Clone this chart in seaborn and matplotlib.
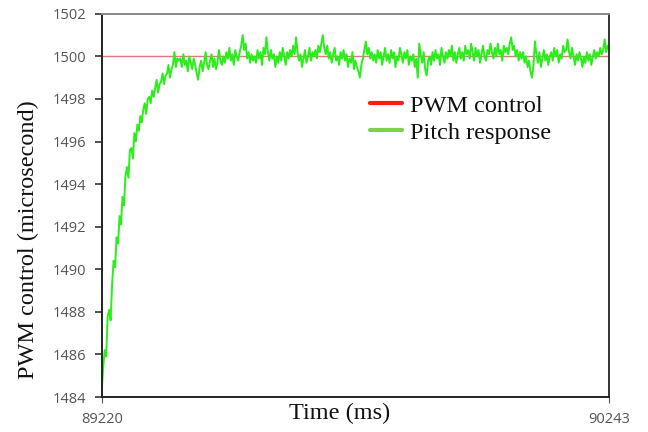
import numpy as np
import pandas as pd
import matplotlib
matplotlib.use("Agg")
import matplotlib.pyplot as plt
from matplotlib.lines import Line2D
import seaborn as sns

# ---------------- data ----------------
t_start, t_end = 89220, 90243
pwm_level = 1500
y_ticks = [1484, 1486, 1488, 1490, 1492, 1494, 1496, 1498, 1500, 1502]
x_ticks = [89220, 90243]
series_names = ["PWM control", "Pitch response"]

pitch_rise = [
    1484.3, 1485.4, 1486.2, 1485.9, 1487.8, 1488.1, 1487.6, 1489.3, 1490.4, 1490.1,
    1491.5, 1491.2, 1492.5, 1492.1, 1493.4, 1493.0, 1494.4, 1494.8, 1494.3, 1495.6,
    1495.7, 1495.2, 1496.4, 1496.0, 1496.8, 1496.5, 1497.2, 1496.9, 1497.5, 1497.8,
    1497.3, 1498.0, 1498.1, 1497.8, 1498.4, 1498.1, 1498.5, 1498.9, 1498.3, 1498.7,
    1498.8, 1499.2, 1498.7, 1499.1, 1499.2, 1499.6, 1499.0, 1499.4, 1499.6, 1500.2,
    1499.5, 1499.9, 1499.8,
]
pitch_steady = [
    1499.9, 1499.5, 1500.1, 1499.6, 1499.8, 1499.3, 1500.0, 1499.7, 1499.4, 1499.9,
    1499.6, 1499.2, 1498.9, 1499.5, 1499.8, 1499.3, 1499.7, 1500.2, 1499.6, 1499.4,
    1499.8, 1500.1, 1499.5, 1499.9, 1499.4, 1499.7, 1500.3, 1499.8, 1499.6, 1500.0,
    1499.7, 1500.2, 1499.9, 1500.4, 1499.8, 1500.1, 1499.6, 1500.3, 1500.0, 1499.8,
    1500.2, 1500.5, 1501.0, 1500.3, 1500.6, 1499.9, 1500.2, 1499.7, 1500.1, 1499.8,
    1500.0, 1499.7, 1500.3, 1499.9, 1500.2, 1499.6, 1500.4, 1500.1, 1500.9, 1500.2,
    1499.8, 1500.3, 1499.9, 1500.1, 1499.5, 1500.0, 1499.7, 1500.2, 1499.8, 1500.4,
    1500.0, 1499.6, 1500.2, 1499.9, 1500.3, 1500.0, 1500.5, 1500.1, 1500.9, 1500.2,
    1499.8, 1500.1, 1499.5, 1499.9, 1500.3, 1499.7, 1500.0, 1500.4, 1499.8, 1500.2,
    1500.0, 1500.3, 1499.9, 1500.5, 1500.2, 1500.6, 1501.0, 1500.4, 1500.1, 1500.5,
    1499.9, 1500.2, 1499.7, 1500.1, 1500.4, 1499.8, 1500.0, 1499.6, 1500.2, 1499.9,
    1500.3, 1499.8, 1500.1, 1499.5, 1499.9, 1499.7, 1500.2, 1499.4, 1499.8, 1499.5,
    1499.3, 1499.0, 1499.6, 1499.9, 1500.3, 1500.7, 1500.1, 1500.4, 1499.9, 1500.2,
    1499.8, 1500.1, 1499.7, 1500.3, 1499.9, 1500.2, 1499.6, 1500.0, 1500.4, 1499.8,
    1500.1, 1499.7, 1500.3, 1499.9, 1500.2, 1499.5, 1500.0, 1499.8, 1500.4, 1500.1,
    1499.7, 1500.2, 1499.9, 1500.3, 1499.6, 1500.0, 1499.8, 1500.1, 1499.5, 1499.9,
    1499.0, 1500.6, 1500.1, 1499.7, 1500.2, 1499.4, 1499.1, 1499.8, 1500.0, 1499.6,
    1500.2, 1499.8, 1500.3, 1499.9, 1500.1, 1499.6, 1500.4, 1500.0, 1499.7, 1500.2,
    1499.9, 1500.3, 1500.0, 1500.5, 1499.8, 1500.2, 1499.7, 1500.1, 1500.4, 1499.9,
    1500.2, 1499.8, 1500.5, 1500.1, 1500.3, 1499.9, 1500.6, 1500.2, 1499.8, 1500.4,
    1500.0, 1500.3, 1499.7, 1500.1, 1500.5, 1500.0, 1499.8, 1500.3, 1500.1, 1500.6,
    1500.2, 1499.9, 1500.4, 1500.0, 1500.6, 1500.1, 1500.3, 1499.8, 1500.5, 1500.2,
    1500.4, 1500.1, 1500.6, 1500.9, 1500.3, 1500.5, 1500.0, 1500.3, 1499.8, 1500.2,
    1499.9, 1500.2, 1499.7, 1500.0, 1499.5, 1499.8, 1499.3, 1499.0, 1499.6, 1500.7,
    1500.1, 1499.7, 1500.2, 1499.5, 1499.9, 1500.3, 1499.8, 1500.1, 1499.6, 1500.0,
    1500.2, 1499.8, 1500.4, 1500.0, 1500.3, 1499.7, 1500.1, 1499.9, 1500.5, 1500.2,
    1500.3, 1500.8, 1500.2, 1499.9, 1500.4, 1500.0, 1499.6, 1500.1, 1499.8, 1500.2,
    1499.9, 1499.5, 1500.0, 1499.7, 1500.2, 1499.8, 1500.1, 1499.6, 1500.0, 1500.3,
    1499.9, 1500.2, 1500.0, 1500.4, 1500.1, 1500.3, 1500.8, 1500.2, 1500.5, 1500.3,
]
pitch = pitch_rise + pitch_steady
time_ms = np.linspace(t_start, t_end, len(pitch))

df = pd.DataFrame({"time": time_ms, "pitch": pitch, "pwm": [pwm_level] * len(pitch)})

# ---------------- plot ----------------
sns.set_theme(style="white")
plt.rcParams["font.family"] = ["DejaVu Sans"]

fig = plt.figure(figsize=(6.48, 4.32), dpi=100)
ax = fig.add_axes([0.157, 0.081, 0.783, 0.887])

sns.lineplot(data=df, x="time", y="pwm", ax=ax, color="#e07a7a", linewidth=1.0, legend=False)
sns.lineplot(data=df, x="time", y="pitch", ax=ax, color="#2aee1a", linewidth=1.4, legend=False)

ax.set_xlim(t_start, t_end)
ax.set_ylim(1484, 1502)
ax.set_yticks(y_ticks)
ax.set_yticklabels([str(v) for v in y_ticks])
ax.set_xticks(x_ticks)
ax.set_xticklabels([str(v) for v in x_ticks])

for lab in ax.get_yticklabels() + ax.get_xticklabels():
    lab.set_fontfamily("Open Sans")
    lab.set_fontsize(10.5)
    lab.set_color("#555555")
ax.tick_params(axis="y", direction="out", length=5, width=1.2, color="#333333", pad=6, left=True)
ax.tick_params(axis="x", direction="out", length=4, width=0.8, color="#555555", pad=7, bottom=True)

for side in ["left", "bottom"]:
    ax.spines[side].set_color("#222222")
    ax.spines[side].set_linewidth(1.4)
ax.spines["top"].set_color("#888888")
ax.spines["top"].set_linewidth(1.4)
ax.spines["right"].set_color("#333333")
ax.spines["right"].set_linewidth(1.4)

serif = ["Liberation Serif", "DejaVu Serif"]
ax.set_ylabel("PWM control (microsecond)", fontfamily=serif, fontsize=17.5, color="#111111")
ax.yaxis.set_label_coords(-0.144, 0.41)
ax.yaxis.label.set_verticalalignment("center")
ax.set_xlabel("Time (ms)", fontfamily=serif, fontsize=17.5, color="#111111")
ax.xaxis.set_label_coords(0.469, -0.042)
ax.xaxis.label.set_verticalalignment("center")

handles = [
    Line2D([0], [0], color="#ff1a1a", linewidth=3),
    Line2D([0], [0], color="#7fd04a", linewidth=3),
]
leg = ax.legend(handles, series_names, loc="upper left", bbox_to_anchor=(0.505, 0.82),
                frameon=False, prop={"family": serif, "size": 17.5},
                handlelength=1.3, handletextpad=0.35, labelspacing=0.2, borderpad=0)
for txt in leg.get_texts():
    txt.set_color("#111111")

fig.savefig("out.png", dpi=100)
